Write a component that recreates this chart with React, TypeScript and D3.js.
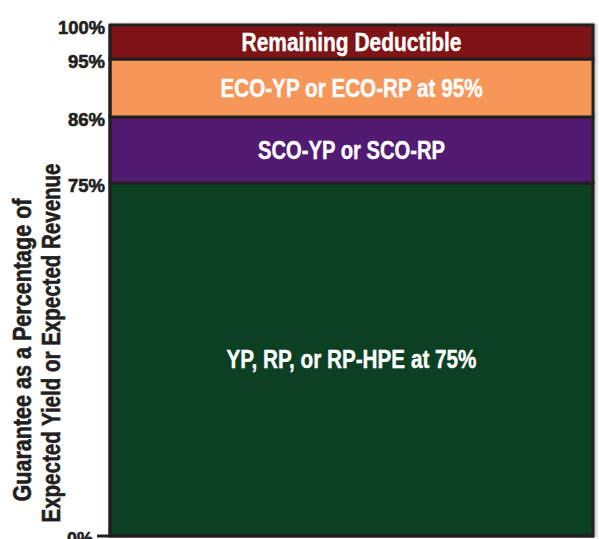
import React from "react";
import * as d3 from "d3";

// Coverage layers, bottom to top (percent of expected yield / revenue)
const layerNames = [
  "YP, RP, or RP-HPE at 75%",
  "SCO-YP or SCO-RP",
  "ECO-YP or ECO-RP at 95%",
  "Remaining Deductible",
];
const layerStarts = [0, 75, 86, 95];
const layerEnds = [75, 86, 95, 100];
const layerColors = ["#0b4122", "#521b73", "#f79659", "#7f1416"];
const layerLabelWidths = [250, 187, 262, 220];

const tickValues = [0, 75, 86, 95, 100];
const tickLabels = ["0%", "75%", "86%", "95%", "100%"];
const tickLabelWidths = [26, 37, 37, 37, 47];

const titleLines = ["Guarantee as a Percentage of", "Expected Yield or Expected Revenue"];
const titleWidths = [303, 359];

const W = 599;
const H = 539;
// Heavy sans, squeezed horizontally to a condensed look
const FONT = "'Liberation Sans', Arial, Helvetica, sans-serif";
const INK = "#231f20";

export default function App() {
  const x0 = 110;
  const x1 = 593;
  const tickLen = 13; // only the baseline carries a tick mark
  // Schematic (piecewise) vertical scale: the bands are not drawn to proportion
  const y = d3
    .scaleLinear()
    .domain(tickValues)
    .range([536, 183, 117, 59, 25]);

  return (
    <svg
      width={W}
      height={H}
      style={{ position: "absolute", left: 0, top: 0, background: "#fff" }}
      fontFamily={FONT}
      fontWeight="bold"
    >
      <defs>
        <linearGradient id="shadeR" x1="0" x2="1" y1="0" y2="0">
          <stop offset="0" stopColor="#bdbdbd" />
          <stop offset="1" stopColor="#ffffff" />
        </linearGradient>
      </defs>
      {/* soft edge around the bar */}
      <rect x={x1 + 1} y={y(100) - 1} width={5} height={y(0) - y(100) + 2} fill="url(#shadeR)" />
      <line x1={x0} x2={x1 + 2} y1={y(100) - 2} y2={y(100) - 2} stroke="#c8c8c8" strokeWidth={1} />

      {layerNames.map((name, i) => (
        <rect
          key={name}
          x={x0}
          y={y(layerEnds[i])}
          width={x1 - x0}
          height={y(layerStarts[i]) - y(layerEnds[i])}
          fill={layerColors[i]}
          stroke={INK}
          strokeWidth={3}
        />
      ))}

      {layerNames.map((name, i) => (
        <text
          key={name + "-label"}
          x={(x0 + x1) / 2}
          y={(y(layerStarts[i]) + y(layerEnds[i])) / 2}
          dy="0.34em"
          textAnchor="middle"
          fill="#ffffff"
          stroke="#ffffff"
          strokeWidth={0.4}
          fontSize={25}
          textLength={layerLabelWidths[i]}
          lengthAdjust="spacingAndGlyphs"
        >
          {name}
        </text>
      ))}

      {/* axis lines */}
      <line x1={x0} x2={x0} y1={y(100)} y2={y(0)} stroke={INK} strokeWidth={3} />
      <line x1={x0 - tickLen} x2={x1 + 1} y1={y(0)} y2={y(0)} stroke={INK} strokeWidth={3} />

      {tickValues.map((v, i) => (
        <text
          key={tickLabels[i]}
          x={v === 0 ? x0 - tickLen - 4 : x0 - 5}
          y={y(v) + 9}
          textAnchor="end"
          fill={INK}
          stroke={INK}
          strokeWidth={0.6}
          fontSize={19}
          textLength={tickLabelWidths[i]}
          lengthAdjust="spacingAndGlyphs"
        >
          {tickLabels[i]}
        </text>
      ))}

      {/* rotated axis title */}
      {titleLines.map((line, i) => (
        <text
          key={line}
          transform={`translate(${i === 0 ? 31 : 60},${i === 0 ? 350 : 343}) rotate(-90)`}
          textAnchor="middle"
          fill={INK}
          stroke={INK}
          strokeWidth={0.6}
          fontSize={26}
          textLength={titleWidths[i]}
          lengthAdjust="spacingAndGlyphs"
        >
          {line}
        </text>
      ))}
    </svg>
  );
}
